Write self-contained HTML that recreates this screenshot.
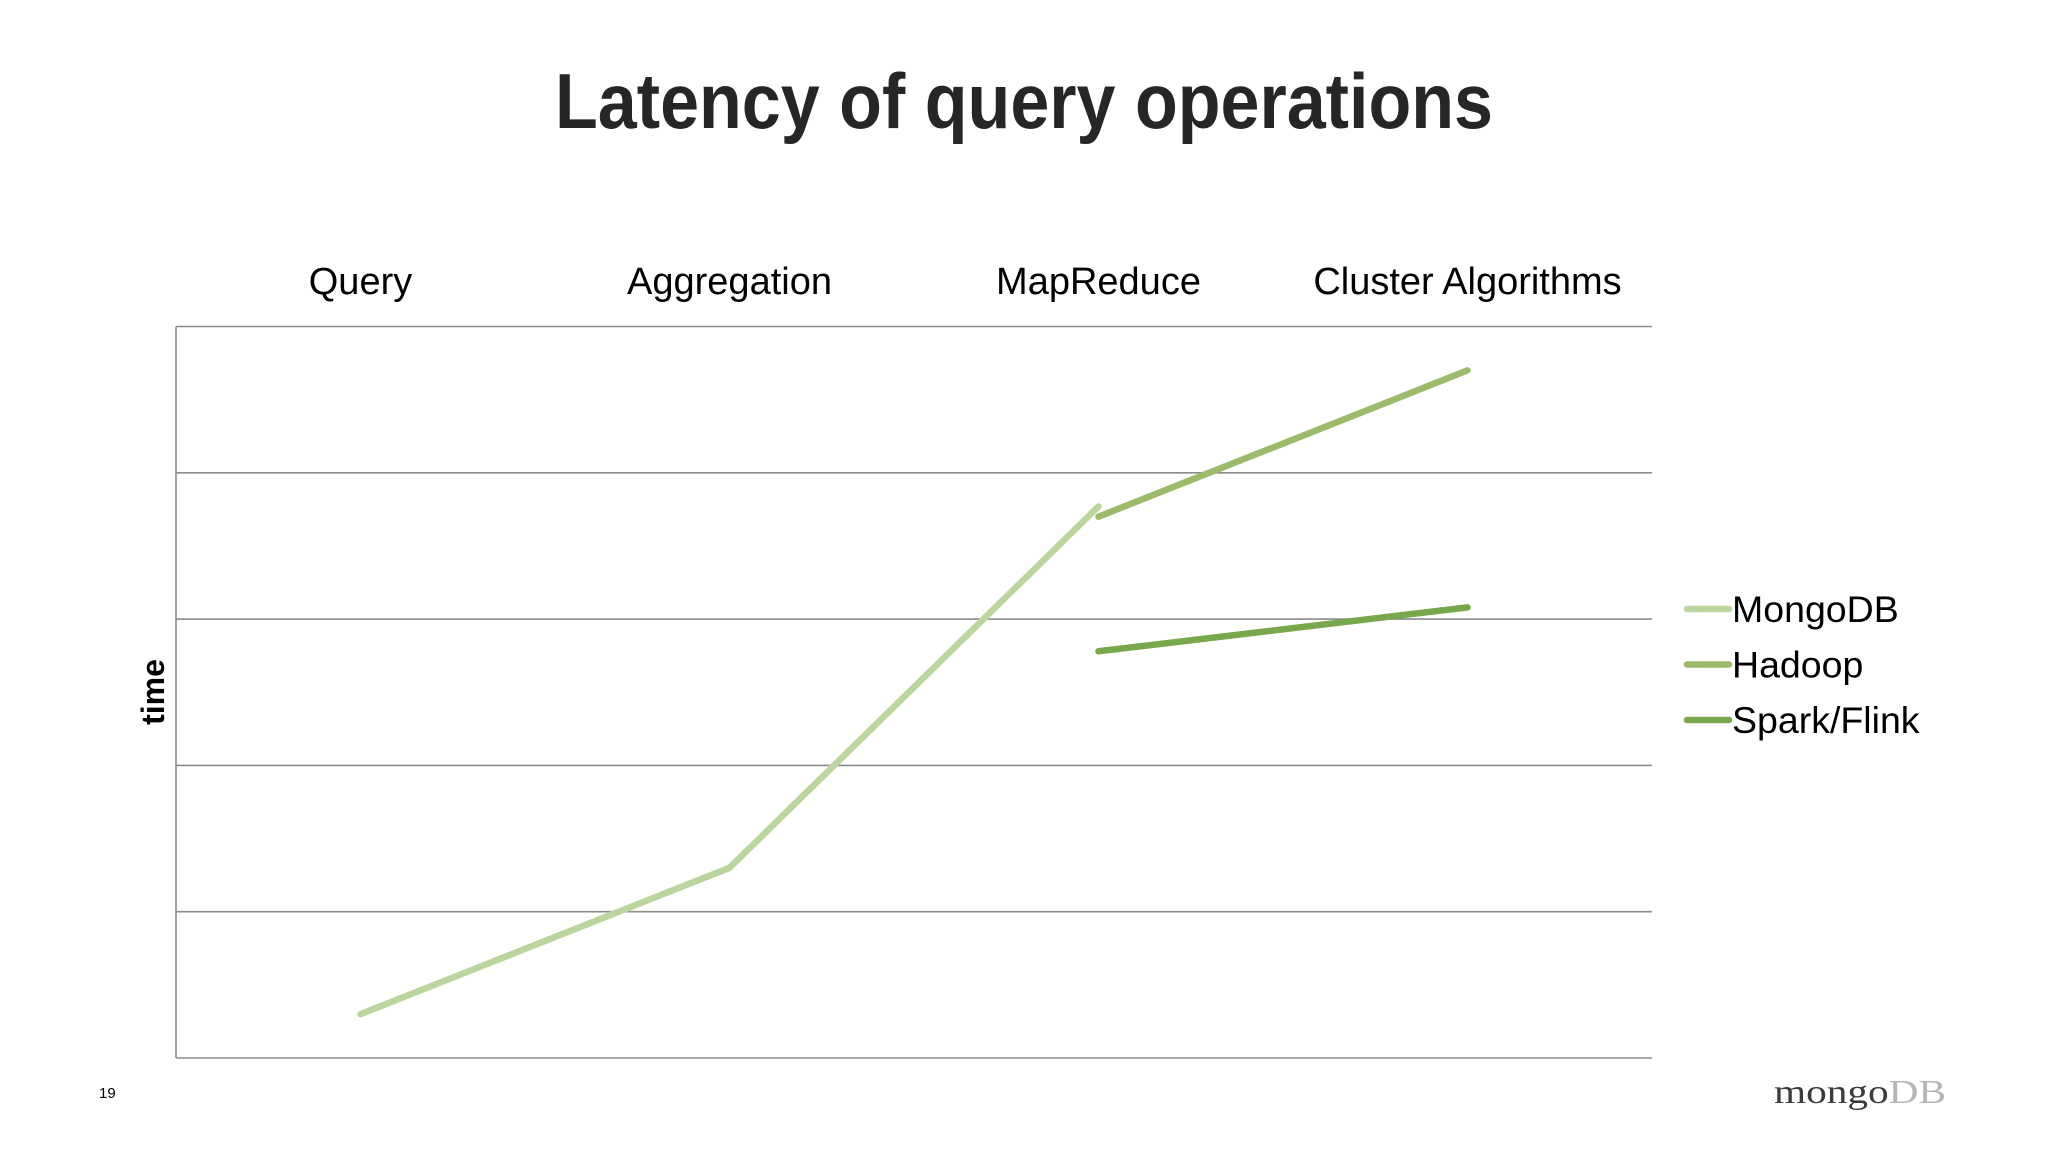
<!DOCTYPE html>
<html><head><meta charset="utf-8">
<style>
html,body{margin:0;padding:0;background:#fff;}
svg{display:block;}
text{font-family:"Liberation Sans",Arial,sans-serif;}
text.serif{font-family:"Liberation Serif","DejaVu Serif",serif;}
</style></head>
<body>
<svg id="chart" width="2048" height="1152" viewBox="0 0 2048 1152">
  <text x="1024" y="128" text-anchor="middle" font-size="78" font-weight="bold" fill="#262626" textLength="938" lengthAdjust="spacingAndGlyphs">Latency of query operations</text>
  <g id="grid"></g>
  <g id="xlabels"></g>
  <g id="series"></g>
  <text transform="translate(164,692) rotate(-90)" text-anchor="middle" font-size="32" font-weight="bold" fill="#000">time</text>
  <g id="legend"></g>
  <text x="99" y="1098" font-size="15" fill="#000">19</text>
  <text class="serif" x="1774" y="1103" font-size="34" textLength="172" lengthAdjust="spacingAndGlyphs"><tspan fill="#3d3b39">mongo</tspan><tspan fill="#b8b6b4">DB</tspan></text>
</svg>
<script>
const categories = ["Query","Aggregation","MapReduce","Cluster Algorithms"];
const seriesNames = ["MongoDB","Hadoop","Spark/Flink"];
const mongoValues = [0.30,1.30,3.77,null];
const hadoopValues = [null,null,3.70,4.70];
const sparkValues = [null,null,2.78,3.08];
const yTicks = [0,1,2,3,4,5];

const colors = ["#bad59e","#9bbb6b","#79a74b"];
const NS = "http://www.w3.org/2000/svg";
const L = 176, R = 1652, T = 326.5, B = 1058, yMax = 5;
const band = (R - L) / categories.length;
const xS = i => L + band * (i + 0.5);
const yS = v => B - (v / yMax) * (B - T);

function mk(tag, attrs, parent) {
  const el = document.createElementNS(NS, tag);
  for (const k in attrs) el.setAttribute(k, attrs[k]);
  parent.appendChild(el);
  return el;
}

const grid = document.getElementById('grid');
yTicks.forEach(t => {
  const ln = mk('line', {x1: L, x2: R, y1: yS(t), y2: yS(t), stroke: '#8c8c8c', 'stroke-width': 1.6}, grid);
  
  
});
const ax = mk('line', {x1: L, x2: L, y1: T, y2: B, stroke: '#8c8c8c', 'stroke-width': 1.6}, grid);



const xl = document.getElementById('xlabels');
categories.forEach((c, i) => {
  const t = mk('text', {x: xS(i), y: 294, 'text-anchor': 'middle', 'font-size': 38, fill: '#000'}, xl);
  t.textContent = c;
  
  
});

const sg = document.getElementById('series');
[mongoValues, hadoopValues, sparkValues].forEach((vals, s) => {
  const pts = [];
  vals.forEach((v, i) => { if (v !== null) pts.push(xS(i) + ',' + yS(v)); });
  const pl = mk('polyline', {points: pts.join(' '), fill: 'none', stroke: colors[s], 'stroke-width': 6.5, 'stroke-linecap': 'round', 'stroke-linejoin': 'round'}, sg);
  
  
});

const lg = document.getElementById('legend');
seriesNames.forEach((n, i) => {
  const y = 609 + i * 55.5;
  const ln = mk('line', {x1: 1687, x2: 1729, y1: y, y2: y, stroke: colors[i], 'stroke-width': 6.5, 'stroke-linecap': 'round'}, lg);
  
  
  const t = mk('text', {x: 1732, y: y + 13, 'font-size': 37.5, fill: '#000'}, lg);
  t.textContent = n;
  
  
});
</script>
</body></html>
